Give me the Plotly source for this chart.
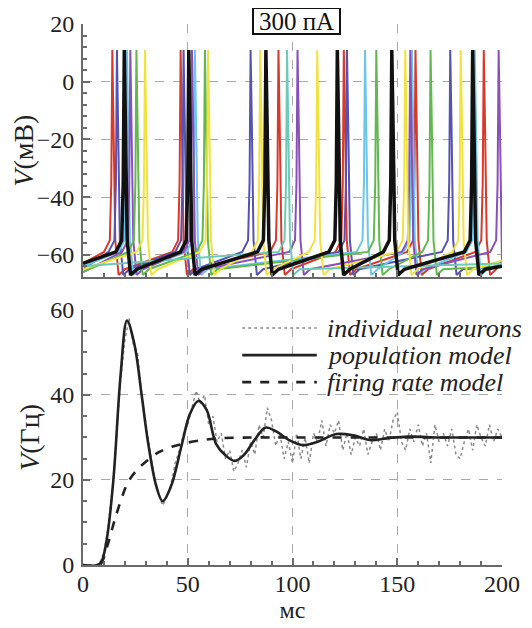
import plotly.graph_objects as go

NEURON_COLORS = ["#d9392b", "#5552b0", "#6cc5ea", "#8a50b8", "#62b84f", "#f2e23f", "#6ccab6", "#111111"]
NEURON_SPIKES = [
    [14.0, 46.6, 93.3, 124.5, 158.7, 191.3],          # red
    [16.2, 48.0, 80.0, 126.0, 175.3],                 # blue-violet
    [21.0, 53.4, 134.6, 157.0, 187.0],                # light blue
    [22.6, 52.0, 102.4, 156.2, 198.4],                # purple
    [25.5, 58.2, 140.0, 165.9],                       # green
    [29.6, 59.7, 84.6, 111.8, 153.8, 180.3],          # yellow
    [97.4],                                           # teal
    [19.7, 50.5, 87.3, 121.4, 147.4, 186.0],          # black
]
NEURON_START_V = [-63, -65, -64, -66, -66, -65, -64, -63]
NEURON_END_V = [-62, -64, -63, -62, -64, -62, -63, -64]
# shape of one action potential around its peak time
SPIKE_DT = [-4.0, -1.2, -0.5, 0.0, 0.6, 1.4, 3.0, 6.0]
SPIKE_V = [-59, -55, -35, 11, -15, -55, -67, -65]

# ---- bottom panel: firing rate (Hz)
IND_T = list(range(0, 201, 2))
IND_V = [0, 0, 0, 0, 0.5, 3, 9, 18, 30, 44, 53, 58, 52, 50, 40, 33, 27, 21, 17, 14,
         16, 19, 24, 27, 31, 33, 37, 41, 38, 40, 33, 35, 29, 31, 25, 27, 22, 24, 27, 23,
         29, 26, 33, 30, 37, 34, 28, 31, 25, 29, 24, 31, 25, 30, 24, 31, 29, 34, 28, 33,
         31, 34, 27, 31, 26, 30, 28, 32, 26, 29, 31, 27, 32, 29, 34, 36, 29, 27, 32, 29,
         33, 28, 31, 24, 33, 29, 31, 28, 32, 26, 25, 29, 32, 27, 33, 30, 28, 33, 29, 32, 30]
POP_T = [0, 7, 9, 11.5, 14.5, 18, 21, 24.5, 28, 31, 35, 38, 42, 47, 51, 55, 59, 63.5, 68, 72.5,
         77, 82, 87, 92, 98, 105, 112, 121, 129, 137, 145, 155, 170, 185, 200]
POP_V = [0, 0, 1, 6.5, 20, 45, 57.5, 52, 40, 29, 18.5, 15, 18.5, 28, 35.5, 38.6, 36.5, 28.5, 25.8, 24.5,
         26, 29.5, 32.3, 31.5, 29.5, 28.2, 29, 30.8, 30.5, 29.4, 29.8, 30.2, 30, 30, 30]
FR_T = [0, 8, 11.5, 15.6, 21.3, 26, 31, 36, 42.4, 50, 57, 65, 80, 100, 200]
FR_V = [0, 0, 4.3, 11.4, 19.3, 22.5, 24.7, 26.5, 27.8, 28.8, 29.4, 29.8, 30, 30, 30]

LEGEND_NAMES = ["individual neurons", "population model", "firing rate model"]
LEGEND_STYLES = [("#8a8a8a", 1.5, "dot"), ("#222", 2.6, "solid"), ("#222", 2.6, "dash")]

FONT = "Times New Roman"

fig = go.Figure()

for color, spikes, v0, v1 in zip(NEURON_COLORS, NEURON_SPIKES, NEURON_START_V, NEURON_END_V):
    xs, ys = [0], [v0]
    for s in spikes:
        for dt, v in zip(SPIKE_DT, SPIKE_V):
            if 0 <= s + dt <= 200:
                xs.append(s + dt)
                ys.append(v)
    xs.append(200)
    ys.append(v1)
    fig.add_trace(go.Scatter(x=xs, y=ys, mode="lines", showlegend=False,
                             line=dict(color=color, width=3.5 if color == "#111111" else 2),
                             xaxis="x", yaxis="y"))

bottom = [(IND_T, IND_V, "linear", 0), (POP_T, POP_V, "spline", 1), (FR_T, FR_V, "spline", 0.8)]
for (t, v, shape, sm), name, (color, width, dash) in zip(bottom, LEGEND_NAMES, LEGEND_STYLES):
    fig.add_trace(go.Scatter(x=t, y=v, mode="lines", name=name, showlegend=False,
                             line=dict(color=color, width=width, dash=dash, shape=shape,
                                       smoothing=sm if shape == "spline" else None),
                             xaxis="x2", yaxis="y2"))

# hand-placed legend (rows are tighter than plotly's own legend allows)
for i, (name, (color, width, dash)) in enumerate(zip(LEGEND_NAMES, LEGEND_STYLES)):
    ypos = 0.438 - 0.05 * i
    fig.add_shape(type="line", xref="paper", yref="paper", x0=0.38, x1=0.558, y0=ypos, y1=ypos,
                  line=dict(color=color, width=width, dash=dash))
    fig.add_annotation(xref="paper", yref="paper", x=0.578, y=ypos, xanchor="left", yanchor="middle",
                       text="<i>" + name + "</i>", showarrow=False,
                       font=dict(family=FONT, size=26, color="#222"))

axis_common = dict(showgrid=True, gridcolor="#a8a8a8", griddash="dash", gridwidth=1,
                   showline=True, linecolor="#6a6a6a", linewidth=2, zeroline=False, automargin=False,
                   ticks="inside", ticklen=7, tickcolor="#6a6a6a", tickwidth=1.5,
                   tickfont=dict(family=FONT, size=24, color="#222"))

# the page body adds an 8 px offset, so the figure is 8 px smaller than the window
fig.update_layout(
    width=524, height=620,
    margin=dict(l=75, r=30, t=16, b=63),
    paper_bgcolor="white", plot_bgcolor="white",
    font=dict(family=FONT, color="#222"),
    showlegend=False,
    xaxis=dict(domain=[0, 1], range=[0, 200], tickvals=[0, 50, 100, 150, 200], showticklabels=False,
               anchor="y", minor=dict(dtick=10, ticks="inside", ticklen=4, tickcolor="#6a6a6a"),
               **axis_common),
    yaxis=dict(domain=[0.5318, 1], range=[-67.8, 20], tickvals=[-60, -40, -20, 0, 20], anchor="x",
               ticklabelstandoff=2, minor=dict(dtick=4, ticks="inside", ticklen=4, tickcolor="#6a6a6a"),
               title=dict(text="<i>V</i>(мВ)", font=dict(family=FONT, size=28), standoff=2),
               **axis_common),
    xaxis2=dict(domain=[0, 1], range=[0, 200], tickvals=[0, 50, 100, 150, 200], anchor="y2",
                ticklabelstandoff=-4,
                minor=dict(dtick=10, ticks="inside", ticklen=4, tickcolor="#6a6a6a"),
                title=dict(text="мс", font=dict(family=FONT, size=24), standoff=0),
                **axis_common),
    yaxis2=dict(domain=[0, 0.4714], range=[0, 60], tickvals=[0, 20, 40, 60], anchor="x2",
                ticklabelstandoff=2, minor=dict(dtick=5, ticks="inside", ticklen=4, tickcolor="#6a6a6a"),
                title=dict(text="<i>V</i>(Гц)", font=dict(family=FONT, size=28), standoff=2),
                **axis_common),
)
fig.add_annotation(x=102, y=20, xref="x", yref="y", yshift=3, text="300 пА", showarrow=False,
                   font=dict(family=FONT, size=25, color="#111"), bgcolor="white",
                   width=83, height=22, bordercolor="#111", borderwidth=2, borderpad=1)

fig.write_html("out.html")
